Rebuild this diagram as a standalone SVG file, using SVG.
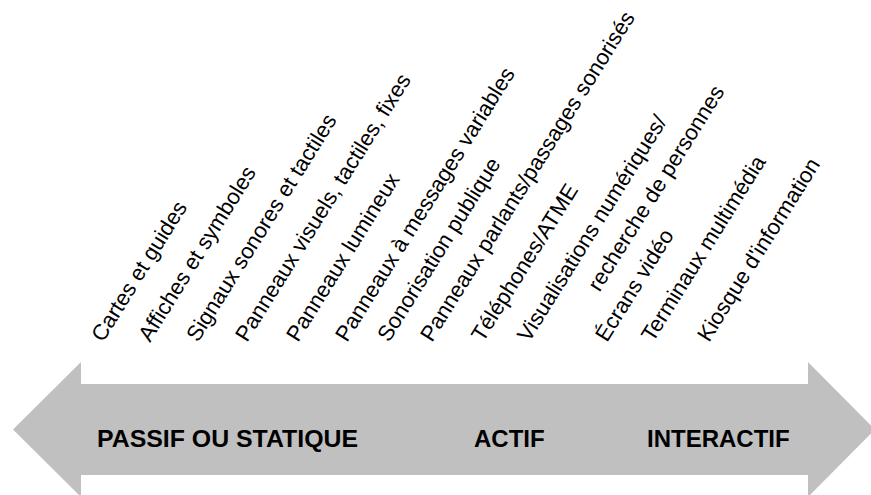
<svg xmlns="http://www.w3.org/2000/svg" width="871" height="495" viewBox="0 0 871 495">
  <style>
    .band { fill: #c0c0c0; }
    .scale { font-family: "Liberation Sans", Arial, sans-serif; font-size: 24px; font-weight: bold; fill: #000; }
    .item { font-family: "Liberation Sans", Arial, sans-serif; font-size: 22px; fill: #000; }
  </style>
  <rect width="871" height="495" fill="#fff"/>

  <!-- double-headed band: passive to interactive -->
  <g id="band">
    <polygon class="band" points="13,429.5 81,362 81,384 808,384 808,362 875,429.5 808,497 808,475 81,475 81,497"/>
    <text class="scale" x="97" y="447" textLength="261" lengthAdjust="spacingAndGlyphs">PASSIF OU STATIQUE</text>
    <text class="scale" x="474" y="447">ACTIF</text>
    <text class="scale" x="647" y="447">INTERACTIF</text>
  </g>

  <!-- information media, slanted labels along the band -->
  <g id="items">
    <g id="item1"><text class="item" transform="translate(103,343) rotate(-58)">Cartes et guides</text></g>
    <g id="item2"><text class="item" transform="translate(150,343) rotate(-58)">Affiches et symboles</text></g>
    <g id="item3"><text class="item" transform="translate(198,343) rotate(-58)">Signaux sonores et tactiles</text></g>
    <g id="item4"><text class="item" transform="translate(247,343) rotate(-58)">Panneaux visuels, tactiles, fixes</text></g>
    <g id="item5"><text class="item" transform="translate(298,343) rotate(-58)">Panneaux lumineux</text></g>
    <g id="item6"><text class="item" transform="translate(347,343) rotate(-58)">Panneaux à messages variables</text></g>
    <g id="item7"><text class="item" transform="translate(389,343) rotate(-58)">Sonorisation publique</text></g>
    <g id="item8"><text class="item" transform="translate(432,343) rotate(-58)">Panneaux parlants/passages sonorisés</text></g>
    <g id="item9"><text class="item" transform="translate(483,343) rotate(-58)">Téléphones/ATME</text></g>
    <g id="item10"><text class="item" transform="translate(529,343) rotate(-58)"><tspan x="0" y="0">Visualisations numériques/</tspan><tspan x="80" y="33">recherche de personnes</tspan></text></g>
    <g id="item11"><text class="item" transform="translate(607,343) rotate(-58)">Écrans vidéo</text></g>
    <g id="item12"><text class="item" transform="translate(653,343) rotate(-58)">Terminaux multimédia</text></g>
    <g id="item13"><text class="item" transform="translate(709,343) rotate(-58)">Kiosque d'information</text></g>
  </g>
</svg>
